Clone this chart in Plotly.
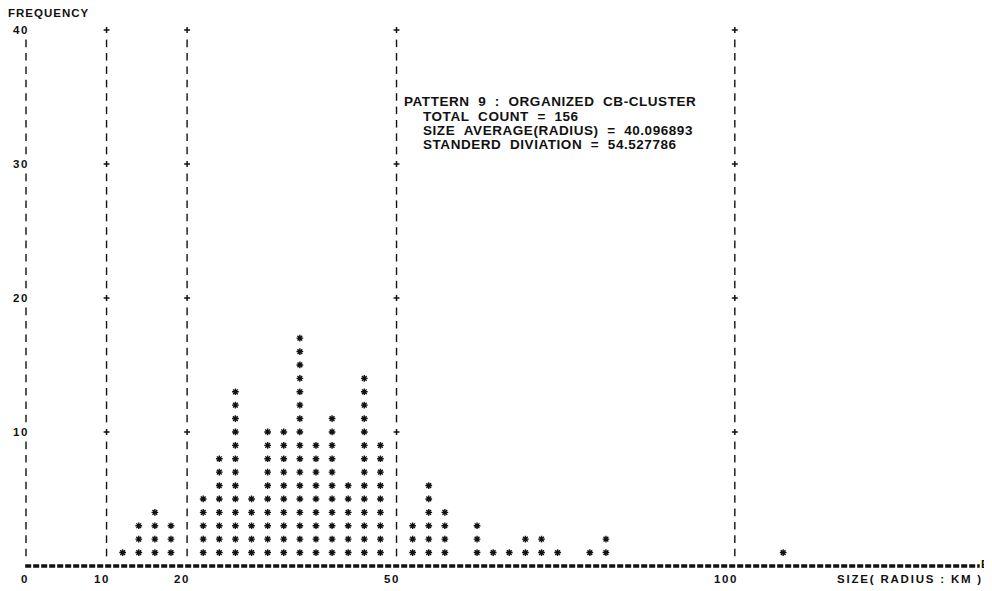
import plotly.graph_objects as go

# ---- data ----
# print-column index of each histogram column (2 print characters per column)
bin_cols = [6, 7, 8, 9, 11, 12, 13, 14, 15, 16, 17, 18, 19, 20, 21, 22,
            24, 25, 26, 28, 29, 30, 31, 32, 33, 35, 36, 47]
bin_counts = [1, 3, 4, 3, 5, 8, 13, 5, 10, 10, 17, 9, 11, 6, 14, 9,
              3, 6, 4, 3, 1, 1, 2, 2, 1, 1, 2, 1]

# vertical guide lines and their size labels
grid_cols = [0, 5, 10, 23, 44]
grid_labels = ["0", "10", "20", "50", "100"]

# frequency ticks
y_ticks = [10, 20, 30, 40]
y_tick_labels = ["10", "20", "30", "40"]
y_max = 40

x_title = "SIZE( RADIUS : KM )"
y_title = "FREQUENCY"
info_title = "PATTERN 9 : ORGANIZED CB-CLUSTER"
info_lines = ["TOTAL COUNT = 156",
              "SIZE AVERAGE(RADIUS) = 40.096893",
              "STANDERD DIVIATION = 54.527786"]

# ---- styling ----
INK = "#111111"
FONT = "Liberation Sans"
axis_end = 59.2


def spaced(txt, ls, wide_space=True):
    if wide_space:
        txt = txt.replace(" ", "\u00a0\u00a0")
    return f'<span style="letter-spacing:{ls}px">{txt}</span>'


# expand counts into one asterisk per unit
star_x, star_y = [], []
for c, n in zip(bin_cols, bin_counts):
    for r in range(1, n + 1):
        star_x.append(c)
        star_y.append(r)

# dashed guide lines built from "|" and "+" characters
bar_x, bar_y, plus_x, plus_y = [], [], [], []
for g in grid_cols:
    for r in range(1, y_max + 1):
        if r % 10 == 0:
            if g != grid_cols[0]:
                plus_x.append(g)
                plus_y.append(r)
        else:
            bar_x.append(g)
            bar_y.append(r)

fig = go.Figure()

# baseline "=====...E"
fig.add_trace(go.Scatter(
    x=[grid_cols[0] - 0.05, axis_end], y=[0, 0], mode="lines",
    line=dict(color=INK, width=3.5, dash="6px,2px"),
    hoverinfo="skip", showlegend=False))

fig.add_trace(go.Scatter(
    x=bar_x, y=bar_y, mode="markers",
    marker=dict(symbol="line-ns-open", size=5.4, color=INK,
                line=dict(width=1.4, color=INK)),
    hoverinfo="skip", showlegend=False))

fig.add_trace(go.Scatter(
    x=plus_x, y=plus_y, mode="markers",
    marker=dict(symbol="cross-thin-open", size=4.2, color=INK,
                line=dict(width=1.5, color=INK)),
    hoverinfo="skip", showlegend=False))

fig.add_trace(go.Scatter(
    x=star_x, y=star_y, mode="markers",
    marker=dict(symbol="asterisk-open", size=5.6, color=INK,
                line=dict(width=1.4, color=INK)),
    hoverinfo="skip", showlegend=False))

small = dict(family=FONT, size=11.5, color=INK, weight="bold")
annos = []
for g, lab in zip(grid_cols, grid_labels):
    annos.append(dict(x=g, y=-1.0, text=spaced(lab, 1.6), showarrow=False,
                      xanchor="right", yanchor="middle", xshift=5, font=small))
for v, lab in zip(y_ticks, y_tick_labels):
    annos.append(dict(x=grid_cols[0], y=v, text=spaced(lab, 1.6), showarrow=False,
                      xanchor="right", yanchor="middle", xshift=5, font=small))
annos.append(dict(x=54.9, y=-1.0, text=spaced(x_title, 1.8, False), showarrow=False,
                  xanchor="center", yanchor="middle", font=small))
annos.append(dict(x=axis_end + 0.3, y=0.15, text="E", showarrow=False,
                  xanchor="center", yanchor="middle", font=small))
annos.append(dict(x=grid_cols[0], y=41.3, text=spaced(y_title, 1.0, False),
                  showarrow=False, xanchor="left", yanchor="middle", xshift=-20,
                  font=dict(family=FONT, size=11.5, color=INK, weight="bold")))

big = dict(family=FONT, size=13.5, color=INK, weight="bold")
info_x = 23.35
info_y0 = 34.65
info_dy = 1.075
annos.append(dict(x=info_x, y=info_y0, text=spaced(info_title, 0.55), showarrow=False,
                  xanchor="left", yanchor="middle", font=big))
for i, line in enumerate(info_lines, start=1):
    annos.append(dict(x=info_x, y=info_y0 - i * info_dy, text=spaced(line, 0.55),
                      showarrow=False, xanchor="left", yanchor="middle",
                      xshift=19, font=big))

# the page places the figure 8px from the window's top-left corner
fig.update_layout(
    width=984, height=583,
    margin=dict(l=2, r=2, t=2, b=2),
    paper_bgcolor="white", plot_bgcolor="white",
    xaxis=dict(range=[-0.993, 59.84], visible=False, fixedrange=True),
    yaxis=dict(range=[-1.72, 41.49], visible=False, fixedrange=True),
    annotations=annos,
    showlegend=False,
)

fig.write_html("out.html")
